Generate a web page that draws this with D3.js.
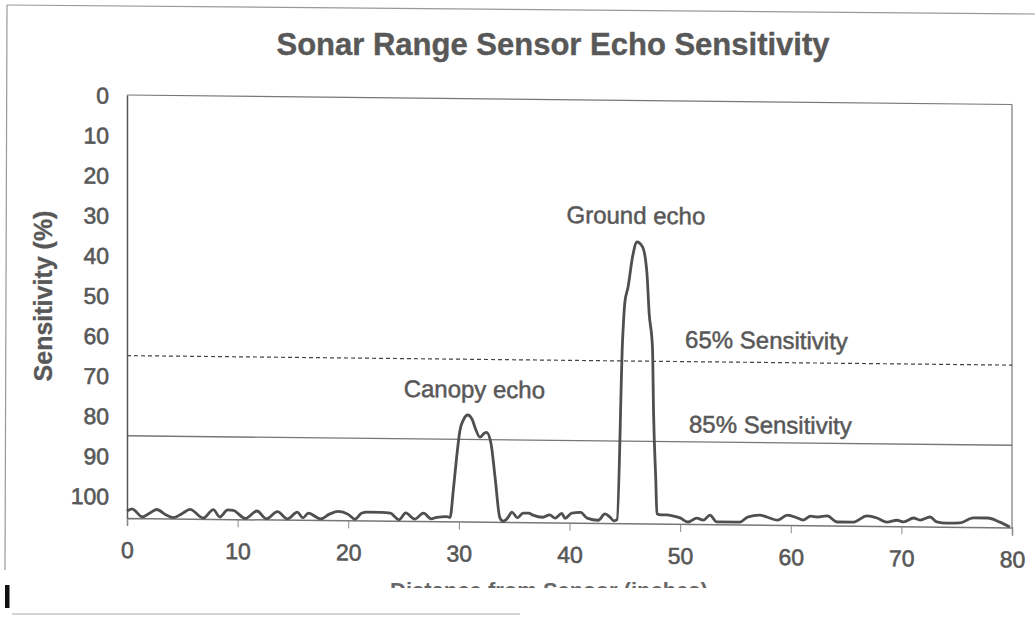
<!DOCTYPE html>
<html><head><meta charset="utf-8">
<script src="https://cdn.jsdelivr.net/npm/d3@7"></script>
<style>
html,body{margin:0;padding:0;background:#fff;}
svg{display:block;}
text{font-family:"Liberation Sans", Arial, Helvetica, sans-serif;}
</style>
</head><body>
<svg id="c" width="1035" height="618"></svg>
<script>
// ---- data ----
const distance = [
  0.0,0.45,1.4,2.0,2.7,3.5,4.2,5.0,5.7,6.9,7.8,8.4,9.1,9.6,10.7,11.75,12.6,13.6,14.5,15.4,15.9,16.4,17.5,18.3,19.1,20.0,20.6,21.2,21.7,23.0,23.8,24.6,25.2,26.0,26.8,27.5,28.0,28.9,29.2,
  29.5,29.8,30.1,30.4,30.8,31.2,31.5,31.9,32.3,32.5,32.9,33.3,33.7,34.0,
  34.4,34.8,35.3,35.8,36.3,36.7,37.6,38.2,38.7,39.3,39.6,40.2,41.0,41.6,42.6,43.2,43.7,44.0,44.3,
  44.8,45.0,45.3,45.7,46.1,46.6,47.0,47.2,47.5,47.6,47.8,47.9,
  48.3,48.8,49.3,50.0,50.7,51.5,52.1,52.7,53.3,55.4,56.1,57.2,57.9,58.8,59.7,60.6,61.1,61.8,62.4,63.3,64.2,65.6,66.9,67.8,68.7,69.6,70.2,71.1,71.7,72.6,73.2,74.1,75.3,76.5,77.8,78.9,79.8
];
const sensitivity = [
  103.8,103.2,105.2,104.3,103.3,104.6,105.3,104.2,103.2,105.3,103.2,105.0,103.2,103.3,105.3,103.4,105.3,103.5,105.3,103.6,105.0,103.8,105.2,104.0,103.3,104.0,105.2,103.7,103.4,103.4,103.6,105.2,103.5,105.0,103.5,104.9,104.5,104.3,104.5,
  97.6,89.4,82.7,80.2,78.9,80.0,82.3,84.4,83.4,83.2,85.9,95.1,104.4,105.3,
  104.5,103.0,104.4,103.2,103.2,103.7,104.2,103.6,104.4,103.2,104.4,103.1,102.9,104.3,104.8,103.2,104.1,104.9,104.6,
  59.7,50.5,46.5,39.0,35.3,36.5,43.0,53.0,61.5,77.9,94.6,103.0,
  103.3,103.3,103.5,104.0,105.0,104.0,104.5,103.2,104.9,104.9,103.6,103.1,103.6,104.3,103.0,103.7,104.2,103.2,103.4,103.1,104.6,104.6,103.0,103.5,104.5,104.0,104.4,103.4,103.9,103.1,104.3,104.6,104.5,103.2,103.2,104.2,105.4
];
const xTicks = [0,10,20,30,40,50,60,70,80];
const yTicks = [0,10,20,30,40,50,60,70,80,90,100];
const thresholds = [65, 85];
const thresholdLabels = ["65% Sensitivity", "85% Sensitivity"];
const echoLabels = ["Canopy echo", "Ground echo"];
const titleText = "Sonar Range Sensor Echo Sensitivity";
const yTitle = "Sensitivity (%)";
const xTitle = "Distance from Sensor (inches)";

// ---- layout ----
const svg = d3.select("#c");
const L = 127, T = 95, W = 885, H = 423;
const ink = "#585858";
const inkStroke = (sel, w) => sel.attr("stroke", ink).attr("stroke-width", w).attr("paint-order","stroke");

// scanner frame remnants
svg.append("line").attr("x1",7).attr("y1",5).attr("x2",1035).attr("y2",14)
  .attr("stroke","#999").attr("stroke-width",1.2);
svg.append("line").attr("x1",7).attr("y1",5).attr("x2",5).attr("y2",570)
  .attr("stroke","#999").attr("stroke-width",1.2);
svg.append("rect").attr("x",5).attr("y",585).attr("width",4.5).attr("height",23).attr("fill","#111");
svg.append("line").attr("x1",12).attr("y1",614).attr("x2",520).attr("y2",614)
  .attr("stroke","#aaa").attr("stroke-width",1.2);

// title
inkStroke(svg.append("text").attr("x",553).attr("y",55).attr("text-anchor","middle")
  .attr("font-size",31).attr("font-weight","bold").attr("fill",ink).text(titleText), 0.4);

// y title
inkStroke(svg.append("text").attr("transform","translate(52,296) rotate(-90)")
  .attr("text-anchor","middle").attr("font-size",25).attr("font-weight","bold")
  .attr("fill",ink).text(yTitle), 0.3);

// x title, only its top is visible (cut by the scan)
svg.append("clipPath").attr("id","cut").append("rect").attr("x",0).attr("y",560).attr("width",1035).attr("height",28);
svg.append("text").attr("x",549).attr("y",598).attr("text-anchor","middle")
  .attr("font-size",22).attr("font-weight","bold").attr("fill","#666")
  .attr("clip-path","url(#cut)").text(xTitle);

// plot group (slightly skewed like the scan)
const g = svg.append("g").attr("transform",`translate(${L},${T}) skewY(0.615)`);
const x = d3.scaleLinear().domain([0,80]).range([0,W]);
const y = d3.scaleLinear().domain([0,105.5]).range([0,H]);

// plot border
g.append("line").attr("x1",0).attr("y1",0).attr("x2",W).attr("y2",0).attr("stroke","#777").attr("stroke-width",1.2);
g.append("line").attr("x1",W).attr("y1",0).attr("x2",W).attr("y2",H).attr("stroke","#777").attr("stroke-width",1.2);

// threshold lines
g.append("line").attr("x1",0).attr("x2",W).attr("y1",y(thresholds[0])).attr("y2",y(thresholds[0]))
  .attr("stroke","#444").attr("stroke-width",1.2).attr("stroke-dasharray","4,3");
g.append("line").attr("x1",0).attr("x2",W).attr("y1",y(thresholds[1])).attr("y2",y(thresholds[1]))
  .attr("stroke","#777").attr("stroke-width",1.4);

// axes
const xAxis = d3.axisBottom(x).tickValues(xTicks).tickSize(8).tickFormat("");
const gx = g.append("g").attr("transform",`translate(0,${H})`).call(xAxis);
gx.select(".domain").attr("stroke","#777").attr("stroke-width",1.5);
gx.selectAll(".tick line").attr("stroke","#888").attr("stroke-width",1);
inkStroke(gx.selectAll(".tick").append("text").attr("y",40).attr("text-anchor","middle")
  .attr("font-size",23).attr("fill",ink).text(d=>d), 0.6);

const yAxis = d3.axisLeft(y).tickValues(yTicks).tickSize(0).tickFormat("");
const gy = g.append("g").call(yAxis);
gy.select(".domain").attr("stroke","#555").attr("stroke-width",1.5);
gy.selectAll(".tick text").remove();
inkStroke(gy.selectAll(".tick").append("text").attr("x",-18).attr("dy","0.36em").attr("text-anchor","end")
  .attr("font-size",23).attr("fill",ink).text(d=>d), 0.6);

// echo line
const pts = distance.map((d,i)=>[d, sensitivity[i]]);
const line = d3.line().x(d=>x(d[0])).y(d=>y(d[1])).curve(d3.curveMonotoneX);
g.append("path").datum(pts).attr("d",line).attr("fill","none")
  .attr("stroke","#4f4f4f").attr("stroke-width",2.8).attr("stroke-linejoin","round");

// labels
const lab = (t,xv,yv,anchor)=>inkStroke(g.append("text").attr("x",x(xv)).attr("y",y(yv)).attr("dy","0.36em")
  .attr("text-anchor",anchor).attr("font-size",24).attr("fill",ink).text(t), 0.5);
lab(echoLabels[1], 46.0, 28.6, "middle");
lab(echoLabels[0], 31.4, 72.4, "middle");
lab(thresholdLabels[0], 50.45, 59.4, "start");
lab(thresholdLabels[1], 50.8, 80.5, "start");
</script>
</body></html>
